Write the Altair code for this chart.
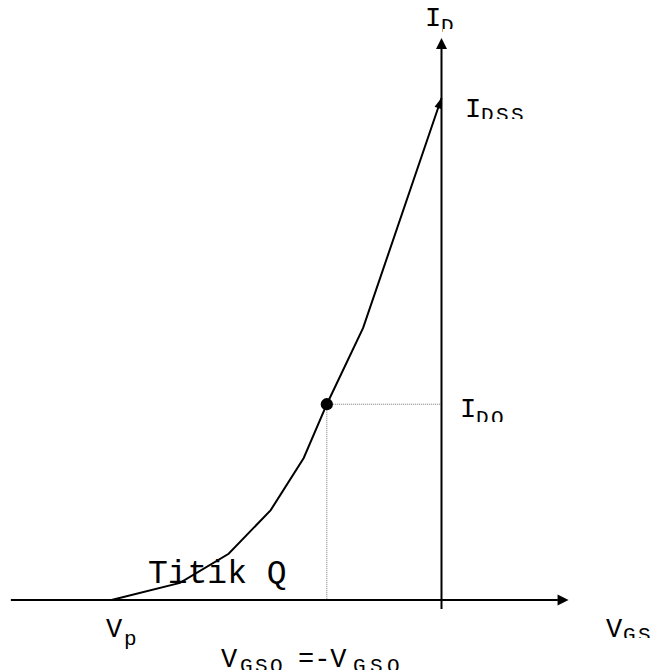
import math
import altair as alt
import pandas as pd

# Transfer characteristic I_D(V_GS) of an n-channel JFET, schematic values
vgs = [-4.0, -3.17, -2.58, -2.07, -1.67, -1.39, -0.95, 0.0]
id_ma = [0.0, 0.34, 0.92, 1.79, 2.83, 3.90, 5.42, 10.0]

V_P = -4.0
I_DSS = 10.0
V_GSQ = -1.39   # operating point (Titik Q)
I_DQ = 3.90

# axis extents in data units
AX_V_START, AX_V_END = -5.22, 1.54
AX_I_START, AX_I_END = -0.18, 11.195

W, H = 659, 670
ORIGIN_X, ORIGIN_Y = 441.5, 600.0
PX_PER_V, PX_PER_I = 82.5, 50.2

# text pieces: text, V position, I position (baseline), font size, letter pitch (px)
label_text = ["I", "D", "I", "DSS", "I", "DQ", "V", "GS", "V", "p",
              "V", "GSQ", "=-V", "GSQ", "Titik Q"]
label_v = [-0.200, -0.006, 0.285, 0.479, 0.224, 0.418, 1.994, 2.200,
           -4.067, -3.850, -2.673, -2.442, -1.740, -1.073, -3.558]
label_i = [11.434, 11.315, 9.622, 9.542, 3.645, 3.506, -0.737, -0.817,
           -0.737, -0.896, -1.335, -1.434, -1.335, -1.434, 0.339]
label_size = [27, 21, 27, 21, 27, 21, 27, 21, 27, 21, 27, 21, 27, 21, 33]
label_pitch = [0, 15, 0, 15, 0, 15, 0, 15, 0, 15, 0, 15, 0, 17, 0]

# boxes that trim the lower edge of some subscripts
clip_v = [0.018, 0.479, 0.418, 2.200]
clip_v2 = [0.345, 1.194, 0.952, 2.636]
clip_i = [11.375, 9.582, 3.546, -0.757]
clip_i2 = [11.235, 9.442, 3.386, -0.916]

x_scale = alt.Scale(domain=[-ORIGIN_X / PX_PER_V, (W - ORIGIN_X) / PX_PER_V],
                    nice=False, zero=False)
y_scale = alt.Scale(domain=[-(H - ORIGIN_Y) / PX_PER_I, ORIGIN_Y / PX_PER_I],
                    nice=False, zero=False)


def X(field, **kw):
    return alt.X(field, type="quantitative", scale=x_scale, axis=None, **kw)


def Y(field, **kw):
    return alt.Y(field, type="quantitative", scale=y_scale, axis=None, **kw)


# subscripts are set letter by letter at a slightly open pitch
rows = []
for t, v, i, s, p in zip(label_text, label_v, label_i, label_size, label_pitch):
    if p:
        for k, ch in enumerate(t):
            rows.append({"t": ch, "v": v + k * p / PX_PER_V, "i": i, "s": s})
    else:
        rows.append({"t": t, "v": v, "i": i, "s": s})
label_df = pd.DataFrame(rows)

curve_df = pd.DataFrame({"v": vgs, "i": id_ma, "order": range(len(vgs))})

# arrowhead direction of the last curve segment (screen space)
dx = (vgs[-1] - vgs[-2]) * PX_PER_V
dy = (id_ma[-1] - id_ma[-2]) * PX_PER_I
curve_angle = math.degrees(math.atan2(dx, dy))

ARROW = "M0,0L-0.5,1L0.5,1Z"
ARROW_NARROW = "M0,0L-0.36,1L0.36,1Z"

h_axis = alt.Chart(pd.DataFrame({"v": [AX_V_START], "v2": [AX_V_END - 0.13], "i": [0.0]})).mark_rule(
    color="black", strokeWidth=2).encode(x=X("v"), x2="v2", y=Y("i"))
v_axis = alt.Chart(pd.DataFrame({"v": [0.0], "i": [AX_I_START], "i2": [AX_I_END - 0.2]})).mark_rule(
    color="black", strokeWidth=2).encode(x=X("v"), y=Y("i"), y2="i2")

heads = alt.Chart(pd.DataFrame({
    "v": [AX_V_END, 0.0], "i": [0.0, AX_I_END], "ang": [90, 0]
})).mark_point(shape=ARROW, filled=True, color="black", size=484, opacity=1,
               strokeWidth=0).encode(x=X("v"), y=Y("i"),
                                     angle=alt.Angle("ang:Q", scale=None))

curve = alt.Chart(curve_df).mark_line(color="black", strokeWidth=2).encode(
    x=X("v"), y=Y("i"), order="order:Q")
curve_head = alt.Chart(pd.DataFrame({"v": [vgs[-1]], "i": [id_ma[-1]]})).mark_point(
    shape=ARROW_NARROW, filled=True, color="black", size=440, opacity=1,
    strokeWidth=0, angle=curve_angle).encode(x=X("v"), y=Y("i"))

guides = alt.Chart(pd.DataFrame({
    "v": [V_GSQ, V_GSQ], "v2": [0.0, V_GSQ], "i": [I_DQ, I_DQ], "i2": [I_DQ, 0.0]
})).mark_rule(color="#777777", strokeWidth=1, strokeDash=[1, 1]).encode(
    x=X("v"), x2="v2", y=Y("i"), y2="i2")

q_point = alt.Chart(pd.DataFrame({"v": [V_GSQ], "i": [I_DQ]})).mark_circle(
    color="black", size=150, opacity=1).encode(x=X("v"), y=Y("i"))

labels = alt.Chart(label_df).mark_text(
    align="left", baseline="alphabetic", font="Liberation Mono", color="black"
).encode(x=X("v"), y=Y("i"), text="t:N", size=alt.Size("s:Q", scale=None))

clips = alt.Chart(pd.DataFrame({
    "v": clip_v, "v2": clip_v2, "i": clip_i, "i2": clip_i2
})).mark_rect(color="white", opacity=1).encode(
    x=X("v"), x2="v2", y=Y("i"), y2="i2")

chart = alt.layer(
    guides, h_axis, v_axis, heads, curve, curve_head, q_point, labels, clips
).properties(
    width=W, height=H, padding=0, autosize=alt.AutoSizeParams(type="none"),
    background="white"
).configure_view(stroke=None)

chart.save("out.html", embed_options={"renderer": "svg", "actions": False})
